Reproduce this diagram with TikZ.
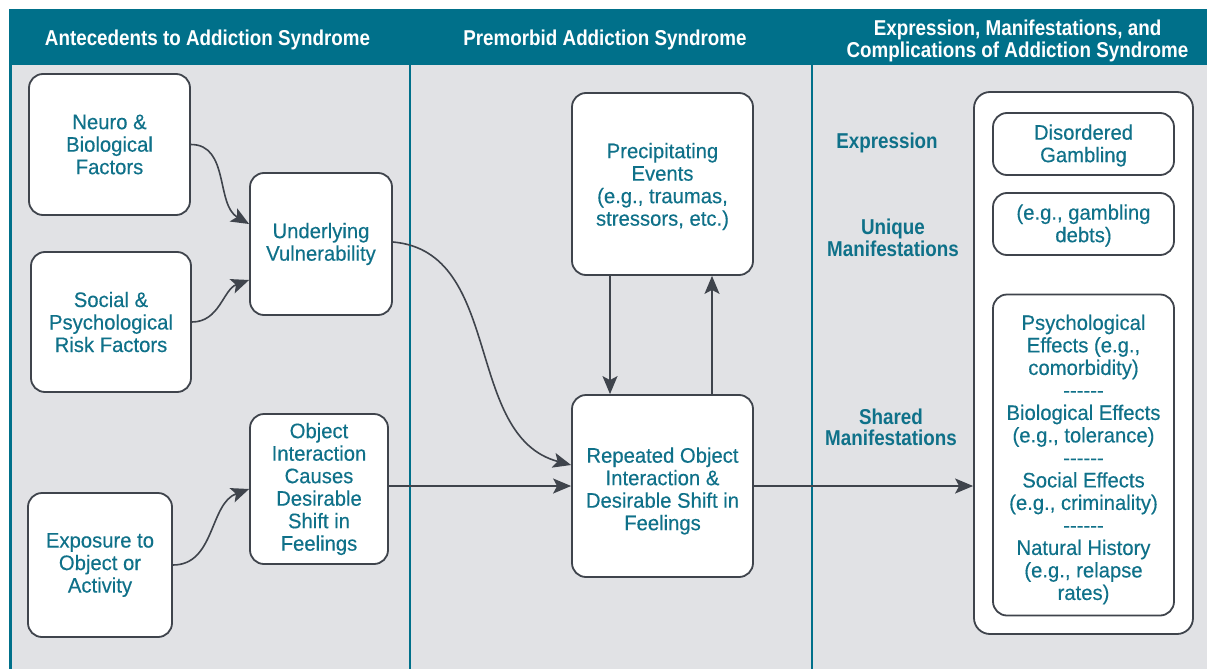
\documentclass[tikz,border=0pt]{standalone}
\usepackage{fontspec}
\setmainfont{Liberation Sans}[FakeStretch=0.965,FakeBold=0.3]
\newfontfamily\hdfont{Liberation Sans}[FakeStretch=0.875]
\usetikzlibrary{arrows.meta}
\definecolor{teal1}{HTML}{00708A}
\definecolor{tealtxt}{HTML}{0F7189}
\definecolor{bggrey}{HTML}{E1E2E5}
\definecolor{boxline}{HTML}{3F444C}
\newcommand{\dashrow}{-{}-{}-{}-{}-{}-}
\tikzset{
  txt/.style={inner sep=0pt, align=center, text=tealtxt,
    font=\fontsize{21}{22.5}\selectfont},
  box/.style={txt, draw=boxline, line width=1.8pt, fill=white, rounded corners=14pt},
  hdr/.style={text=white, align=center, inner sep=0pt,
    font=\hdfont\bfseries\fontsize{21.5}{22}\selectfont},
  side/.style={text=tealtxt, align=center, inner sep=0pt,
    font=\hdfont\bfseries\fontsize{21.5}{21.5}\selectfont},
  arr/.style={draw=boxline, line width=1.6pt,
    -{Stealth[length=18pt,width=15pt,inset=4pt]}},
}
\begin{document}
\begin{tikzpicture}[x=1pt,y=1pt]
\useasboundingbox (0,0) rectangle (1207,-669);
\fill[white] (0,0) rectangle (1207,-669);
% background
\fill[bggrey] (9,-65) rectangle (1207,-669);
\fill[teal1] (9,-9) rectangle (1207,-65);
\draw[teal1, line width=3pt] (10.5,-65) -- (10.5,-669);
\draw[teal1, line width=2.2pt] (410,-65) -- (410,-669);
\draw[teal1, line width=2.2pt] (812,-65) -- (812,-669);
% headers
\node[hdr] (h1) at (207.5,-40) {Antecedents to Addiction Syndrome};
\node[hdr] (h2) at (605,-40) {Premorbid Addiction Syndrome};
\node[hdr] (h3) at (1017.5,-40.5) {Expression, Manifestations, and\\Complications of Addiction Syndrome};
% left column
\node[box, minimum width=161pt, minimum height=141pt] (neuro) at (109.5,-144.5) {Neuro \&\\Biological\\Factors};
\node[box, minimum width=160pt, minimum height=140pt] (social) at (111,-322) {Social \&\\Psychological\\Risk Factors};
\node[box, minimum width=144pt, minimum height=144pt] (expo) at (100,-565) {Exposure to\\Object or\\Activity};
\node[box, minimum width=142pt, minimum height=142pt] (under) at (321,-244) {Underlying\\Vulnerability};
\node[box, minimum width=138pt, minimum height=150pt] (objint) at (319,-489) {Object\\Interaction\\Causes\\Desirable\\Shift in\\Feelings};
% middle column
\node[box, minimum width=181pt, minimum height=182pt] (precip) at (662.5,-184) {};
\node[txt] (precipT) at ([yshift=-2.5pt]precip.center) {Precipitating\\Events\\(e.g., traumas,\\stressors, etc.)};
\node[box, minimum width=181pt, minimum height=182pt] (rep) at (662.5,-486) {};
\node[txt] (repT) at ([yshift=-5pt]rep.center) {Repeated Object\\Interaction \&\\Desirable Shift in\\Feelings};
% right column
\node[box, minimum width=219pt, minimum height=542pt, rounded corners=16pt] (outer) at (1083.5,-363) {};
\node[box, minimum width=181pt, minimum height=62pt] (disord) at (1083.5,-144) {};
\node[txt] (disordT) at ([yshift=-1.5pt]disord.center) {Disordered\\Gambling};
\node[box, minimum width=181pt, minimum height=62pt] (gamb) at (1083.5,-224) {};
\node[txt] (gambT) at ([yshift=-1.5pt]gamb.center) {(e.g., gambling\\debts)};
\node[box, minimum width=181pt, minimum height=321pt] (shared) at (1083.5,-455) {};
\node[txt] (sharedT) at ([yshift=-4.5pt]shared.center) {Psychological\\Effects (e.g.,\\comorbidity)\\\dashrow\\Biological Effects\\(e.g., tolerance)\\\dashrow\\Social Effects\\(e.g., criminality)\\\dashrow\\Natural History\\(e.g., relapse\\rates)};
\node[side] (lexp) at (887,-142.5) {Expression};
\node[side] (luniq) at (893,-238) {Unique\\Manifestations};
\node[side] (lshared) at (891,-427.5) {Shared\\Manifestations};
% connectors
\draw[arr] (neuro.east) to[out=0,in=150] ([yshift=20pt]under.west);
\draw[arr] (social.east) to[out=0,in=200] ([yshift=-36pt]under.west);
\draw[arr] (expo.east) to[out=0,in=200] (objint.west);
\draw[arr] ([yshift=2pt]under.east) to[out=-5,in=165] ([yshift=21pt]rep.west);
\draw[arr] (objint.east |- rep.west) -- (rep.west);
\draw[arr] ([xshift=-52.5pt]precip.south) -- ([xshift=-52.5pt]rep.north);
\draw[arr] ([xshift=49.5pt]rep.north) -- ([xshift=49.5pt]precip.south);
\draw[arr] (rep.east) -- (rep.east -| outer.west);
\end{tikzpicture}
\end{document}
